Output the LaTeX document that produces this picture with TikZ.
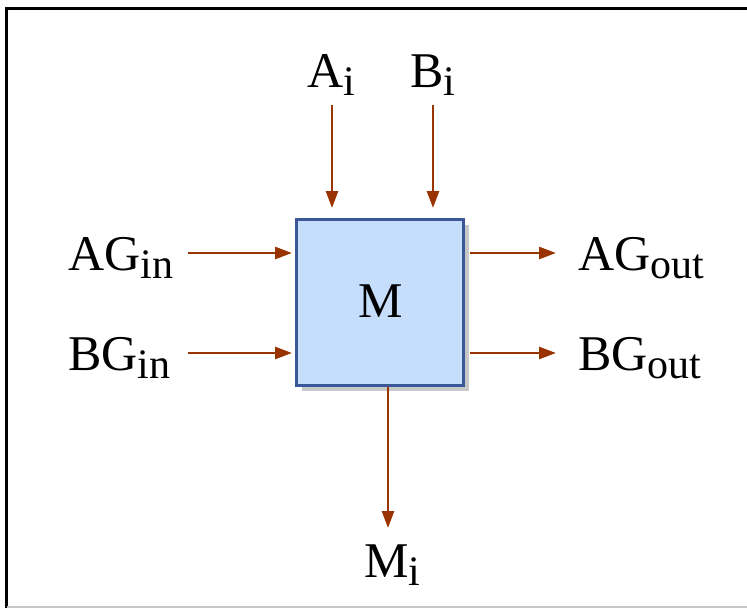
\documentclass[tikz,border=0pt]{standalone}
\usepackage{fontspec}
\setmainfont{Liberation Serif}
\usetikzlibrary{arrows.meta,shadows}
\definecolor{arrowc}{RGB}{153,51,0}
\definecolor{boxfill}{RGB}{198,221,251}
\definecolor{boxline}{RGB}{58,88,152}
\newcommand\subtx[1]{\raisebox{-0.17em}{\fontsize{42}{42}\selectfont #1}}
\begin{document}
\begin{tikzpicture}[x=1pt,y=-1pt,
  lbl/.style={anchor=base west,inner sep=0pt,font=\fontsize{50}{58}\selectfont},
  sig/.style={draw=arrowc,line width=2.7pt,-{Triangle[length=17pt,width=12pt]}},
  mbox/.style={draw=boxline,line width=2.9pt,fill=boxfill,minimum width=167pt,minimum height=166pt,inner sep=0pt,
    drop shadow={shadow xshift=5pt,shadow yshift=-5pt,fill=black!22,opacity=1}}]
\useasboundingbox (0,0) rectangle (747,608);
% frame
\draw[black!45,line width=1pt] (5,7) -- (747,7);
\draw[black,line width=3.2pt] (6.5,608) -- (6.5,8.8) -- (747,8.8);
\draw[black!22,line width=1.8pt] (6.5,606.8) -- (747,606.8);
% box
\node[mbox] (M) at (380,302.5) {};
\node[lbl] (Mt) at (358,317) {M};
% labels
\node[lbl] (Ai) at (307,87) {A\subtx{i}};
\node[lbl] (Bi) at (410,87) {B\subtx{i}};
\node[lbl] (AGin) at (68,270) {AG\subtx{in}};
\node[lbl] (BGin) at (68,370) {BG\subtx{in}};
\node[lbl] (AGout) at (578,270) {AG\subtx{out}};
\node[lbl] (BGout) at (578,370) {BG\subtx{out}};
\node[lbl] (Mi) at (364,577) {M\subtx{i}};
% connector points
\coordinate (a1) at (188,253); \coordinate (a2) at (292,253);
\coordinate (b1) at (188,353); \coordinate (b2) at (292,353);
\coordinate (c1) at (470,253); \coordinate (c2) at (556,253);
\coordinate (d1) at (470,353); \coordinate (d2) at (556,353);
\coordinate (e1) at (332,105); \coordinate (e2) at (332,208);
\coordinate (f1) at (433,105); \coordinate (f2) at (433,208);
\coordinate (g1) at (388,387); \coordinate (g2) at (388,528);
\draw[sig] (a1) -- (a2);
\draw[sig] (b1) -- (b2);
\draw[sig] (c1) -- (c2);
\draw[sig] (d1) -- (d2);
\draw[sig] (e1) -- (e2);
\draw[sig] (f1) -- (f2);
\draw[sig] (g1) -- (g2);
\end{tikzpicture}
\end{document}
